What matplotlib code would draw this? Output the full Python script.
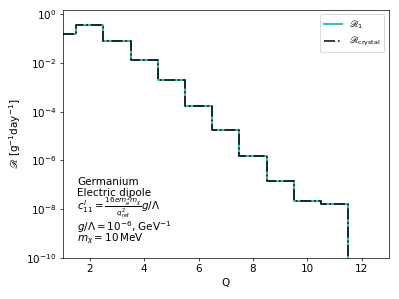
import numpy as np
import matplotlib
matplotlib.use("Agg")
import matplotlib.pyplot as plt

plt.rcParams['mathtext.fontset'] = 'dejavusans'
plt.rcParams['font.size'] = 12

# binned rate per Q (bin centres)
Q = [1, 2, 3, 4, 5, 6, 7, 8, 9, 10, 11, 12]
rate_1 = [0.16, 0.35, 0.079, 0.013, 2.0e-3, 1.7e-4, 1.8e-5, 1.6e-6, 1.5e-7, 2.2e-8, 1.6e-8, 1e-30]
rate_crystal = [0.16, 0.35, 0.079, 0.013, 2.0e-3, 1.7e-4, 1.8e-5, 1.6e-6, 1.5e-7, 2.2e-8, 1.6e-8, 1e-30]

info_lines = ['Germanium', 'Electric dipole',
              r'$c_{11}^l = \frac{16 e m_e^2 m_\chi}{q_{\rm ref}^2} g/\Lambda$',
              r'$g/\Lambda = 10^{-6}$, GeV$^{-1}$',
              r'$m_\chi = 10\,$MeV']
info_y = [0.294, 0.250, 0.190, 0.109, 0.069]

dpi = 399 / 6.4
fig = plt.figure(figsize=(6.4, 299 / dpi), dpi=dpi)
ax = fig.add_axes([0.157, 0.137, 0.818, 0.83])

ax.step(Q, rate_1, where='mid', color='#20b2aa', lw=2, label=r'$\mathscr{R}_1$')
ax.step(Q, rate_crystal, where='mid', color='black', lw=2, ls='-.', alpha=0.85,
        label=r'$\mathscr{R}_{\rm crystal}$')

ax.set_yscale('log')
ax.set_xlim(1, 13)
ax.set_ylim(1e-10, 1.5)
ax.set_xlabel('Q')
ax.set_ylabel(r'$\mathscr{R}$ [g$^{-1}$day$^{-1}$]')
ax.legend(loc='upper right', fontsize=10.5)

for s, y in zip(info_lines, info_y):
    ax.text(0.044, y, s, transform=ax.transAxes, ha='left', va='baseline', fontsize=12)

fig.savefig('out.png', dpi=dpi)
